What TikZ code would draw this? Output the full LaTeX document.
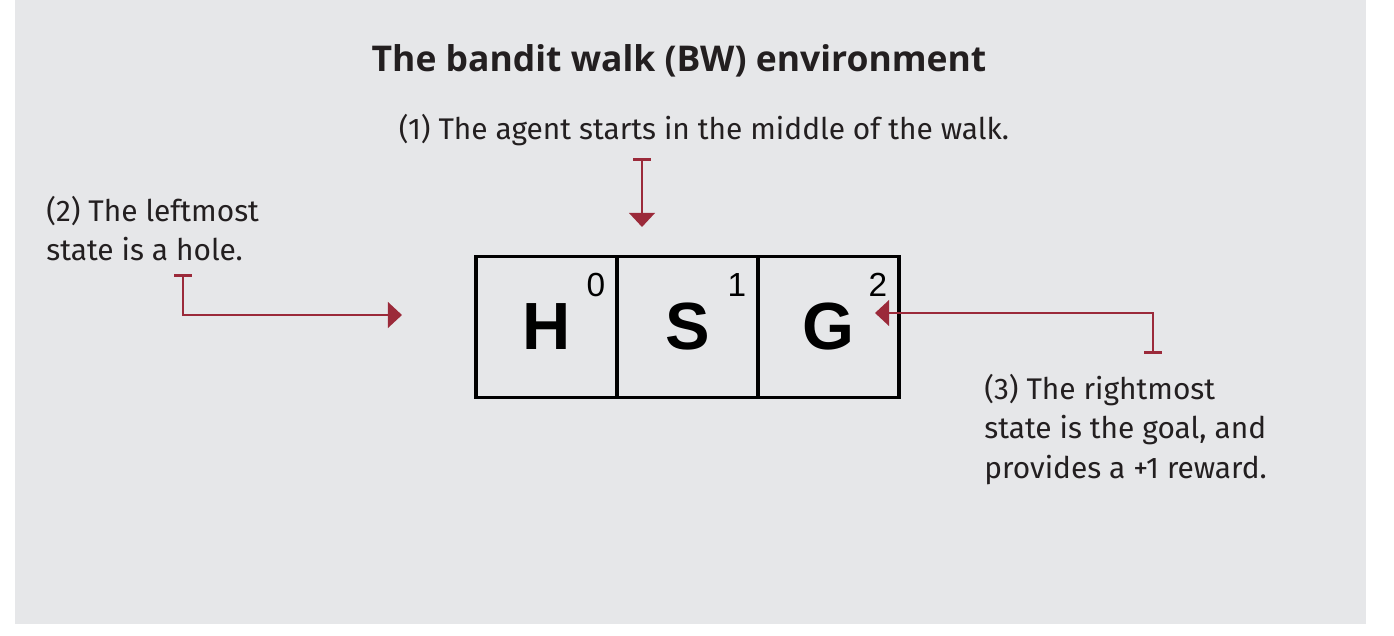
\documentclass[tikz,border=0pt]{standalone}
\usepackage{fontspec}
\setmainfont{Fira Sans}
\newfontfamily\titlefont{Open Sans}
\newfontfamily\cellfont{Liberation Sans}
\usetikzlibrary{positioning,arrows.meta,calc}
\definecolor{panelgray}{RGB}{230,231,233}
\definecolor{callred}{RGB}{155,42,58}
\definecolor{inkgray}{RGB}{35,31,32}

\begin{document}
\begin{tikzpicture}[
    x=0.02cm, y=-0.02cm,
    node distance=0pt,
    cell/.style={draw, line width=2.2pt, outer sep=0pt, minimum size=2.82cm, inner sep=0pt, font=\cellfont\fontsize{38}{40}\selectfont\bfseries},
    idx/.style={inner sep=0pt, font=\cellfont\fontsize{19}{20}\selectfont},
    note/.style={inner sep=0pt, align=left, text=inkgray, font=\fontsize{17}{22.4}\selectfont},
    callout/.style={draw=callred, line width=1.5pt, {Bar[width=10pt,line width=1.6pt]}-{Triangle[width=14.5pt,length=8pt]}},
]
\useasboundingbox (0,0) rectangle (1394,636);
\fill[panelgray] (15,0) rectangle (1366,624);

\node[font=\titlefont\fontsize{20.2}{24}\selectfont\bfseries, text=inkgray] (title) at (679,61) {The bandit walk (BW) environment};

\node[cell] (cellH) at (546.5,327) {H};
\node[cell, right=of cellH] (cellS) {S};
\node[cell, right=of cellS] (cellG) {G};
\node[idx] (idxH) at ($(cellH.north east)+(-21,28)$) {0};
\node[idx] (idxS) at ($(cellS.north east)+(-21,28)$) {1};
\node[idx] (idxG) at ($(cellG.north east)+(-21,28)$) {2};

\node[note] (noteA) at (704,130) {(1) The agent starts in the middle of the walk.};
\node[note, anchor=north west] (noteB) at (46,196) {(2) The leftmost\\state is a hole.};
\node[note, anchor=north west] (noteC) at (984,374) {(3) The rightmost\\state is the goal, and\\provides a +1 reward.};

\coordinate (startA) at (642,158);
\coordinate (tipA) at (642,227);
\coordinate (startB) at (183,274);
\coordinate (tipB) at (402,315);
\coordinate (startC) at (1153,354);
\coordinate (tipC) at (875,313);

\draw[callout] (startA) -- (tipA);
\draw[callout] (startB) |- (tipB);
\draw[callout] (startC) |- (tipC);
\end{tikzpicture}
\end{document}
